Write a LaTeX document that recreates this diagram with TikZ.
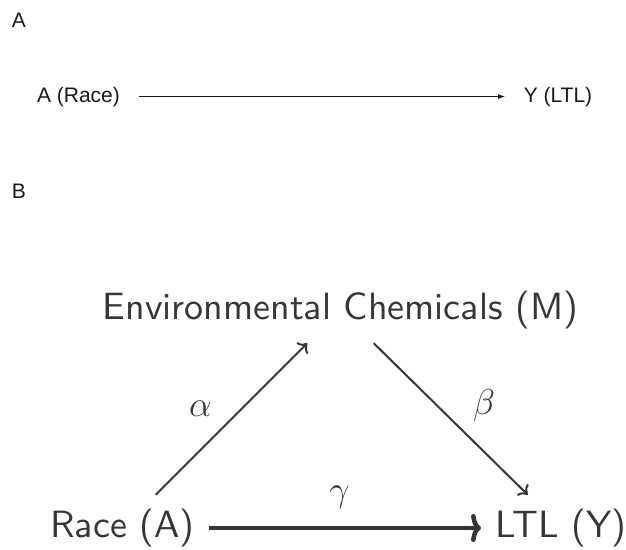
\RequirePackage{fix-cm}
\documentclass[tikz,border=0pt]{standalone}
\usepackage{fontspec}
\usepackage{amsmath}
\usetikzlibrary{arrows.meta}
\newfontfamily\arialfont{Liberation Sans}
\newfontfamily\cmssfont{lmsans10-regular.otf}
\definecolor{darkgrey}{HTML}{363636}
\definecolor{panelblack}{HTML}{1A1A1A}
\tikzset{
  paneltag/.style={font=\arialfont\fontsize{21}{25}\selectfont,text=panelblack,anchor=base,inner sep=0pt},
  varA/.style={font=\arialfont\fontsize{21}{25}\selectfont,text=panelblack,anchor=base,inner xsep=18.5pt},
  varB/.style={font=\cmssfont\fontsize{38}{45}\selectfont,text=darkgrey,text height=28.5pt,text depth=9.5pt,inner sep=14pt},
  coef/.style={font=\fontsize{36}{43}\selectfont,text=darkgrey},
  thinarrow/.style={draw=panelblack,line width=0.9pt,-{Latex[length=7pt,width=5pt]}},
  patharrow/.style={draw=darkgrey,line width=2pt,-{To[length=8pt,width=16pt]}},
  directarrow/.style={draw=darkgrey,line width=4.5pt,-{To[length=10pt,width=28pt]}}
}
\begin{document}
\begin{tikzpicture}[x=1pt,y=-1pt]
\useasboundingbox (0,0) rectangle (626,549);
\node[paneltag] (tagA) at (19,27) {A};
\node[varA] (raceA) at (78.5,102) {A (Race)};
\node[varA] (ltlA) at (558,102) {Y (LTL)};
\path[thinarrow] (raceA.east) -- (ltlA.west);
\node[paneltag] (tagB) at (19,198) {B};
\node[varB] (envM) at (340.5,310) {Environmental Chemicals (M)};
\node[varB] (raceB) at (122.5,528) {Race (A)};
\node[varB] (ltlB) at (561,528) {LTL (Y)};
\path[patharrow] (raceB.45) -- node[coef,pos=0.57,left=26pt] {$\alpha$} (envM.-135);
\path[patharrow] (envM.-45) -- node[coef,pos=0.41,right=32pt] {$\beta$} (ltlB.135);
\path[directarrow] (raceB) -- node[coef,pos=0.48,above=14pt] {$\gamma$} (ltlB);
\end{tikzpicture}
\end{document}
